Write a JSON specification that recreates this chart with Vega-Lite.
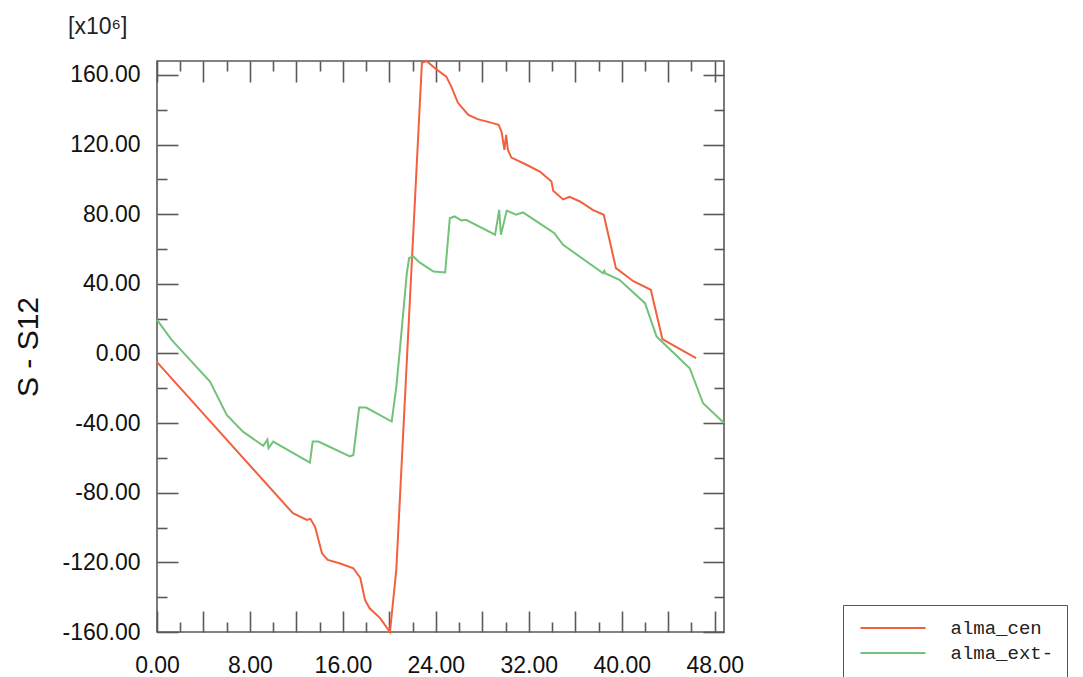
{
  "$schema": "https://vega.github.io/schema/vega-lite/v6.json",
  "width": 567,
  "height": 571,
  "autosize": "none",
  "padding": {"left": 157, "top": 61, "right": 359, "bottom": 45},
  "background": "white",
  "config": {
    "view": {"stroke": "#5f5757", "strokeWidth": 1.6},
    "font": "Liberation Sans"
  },
  "title": {
    "text": "[x10⁶]",
    "anchor": "start",
    "frame": "group",
    "dx": -89,
    "offset": 0,
    "baseline": "alphabetic",
    "fontSize": 23,
    "fontWeight": "normal",
    "font": "Liberation Sans",
    "color": "#222222"
  },
  "data": {
    "values": [
      {"s": "alma_cen", "t": 0, "v": -5},
      {"s": "alma_cen", "t": 11.7, "v": -91.8},
      {"s": "alma_cen", "t": 12.9, "v": -95.6},
      {"s": "alma_cen", "t": 13.2, "v": -95},
      {"s": "alma_cen", "t": 13.6, "v": -99.5},
      {"s": "alma_cen", "t": 14.2, "v": -114.8},
      {"s": "alma_cen", "t": 14.7, "v": -118.6},
      {"s": "alma_cen", "t": 15.7, "v": -120.5},
      {"s": "alma_cen", "t": 16.9, "v": -123.4},
      {"s": "alma_cen", "t": 17.5, "v": -129},
      {"s": "alma_cen", "t": 17.9, "v": -141.6},
      {"s": "alma_cen", "t": 18.3, "v": -146.4},
      {"s": "alma_cen", "t": 19.2, "v": -152},
      {"s": "alma_cen", "t": 20.05, "v": -160},
      {"s": "alma_cen", "t": 20.6, "v": -124},
      {"s": "alma_cen", "t": 21.7, "v": 22},
      {"s": "alma_cen", "t": 22.8, "v": 167},
      {"s": "alma_cen", "t": 23.2, "v": 168},
      {"s": "alma_cen", "t": 23.9, "v": 164},
      {"s": "alma_cen", "t": 24.9, "v": 159},
      {"s": "alma_cen", "t": 25.35, "v": 153},
      {"s": "alma_cen", "t": 25.9, "v": 144},
      {"s": "alma_cen", "t": 26.8, "v": 137},
      {"s": "alma_cen", "t": 27.6, "v": 134.6},
      {"s": "alma_cen", "t": 28.9, "v": 132.3},
      {"s": "alma_cen", "t": 29.4, "v": 131.4},
      {"s": "alma_cen", "t": 29.65, "v": 127.5},
      {"s": "alma_cen", "t": 29.9, "v": 117},
      {"s": "alma_cen", "t": 30.05, "v": 125.6},
      {"s": "alma_cen", "t": 30.2, "v": 117},
      {"s": "alma_cen", "t": 30.5, "v": 112.5},
      {"s": "alma_cen", "t": 31.8, "v": 108.4},
      {"s": "alma_cen", "t": 32.95, "v": 104.5},
      {"s": "alma_cen", "t": 33.95, "v": 98.8},
      {"s": "alma_cen", "t": 34.1, "v": 93.5},
      {"s": "alma_cen", "t": 34.95, "v": 88.5},
      {"s": "alma_cen", "t": 35.5, "v": 90},
      {"s": "alma_cen", "t": 36.4, "v": 87.3},
      {"s": "alma_cen", "t": 37.5, "v": 82.5},
      {"s": "alma_cen", "t": 38.45, "v": 79.7},
      {"s": "alma_cen", "t": 39.5, "v": 49},
      {"s": "alma_cen", "t": 41.0, "v": 41.5},
      {"s": "alma_cen", "t": 42.5, "v": 36.6},
      {"s": "alma_cen", "t": 43.5, "v": 8.3},
      {"s": "alma_cen", "t": 44.1, "v": 5.9},
      {"s": "alma_cen", "t": 46.4, "v": -2.7},
      {"s": "alma_ext-", "t": 0, "v": 19.3},
      {"s": "alma_ext-", "t": 1.26, "v": 7.8},
      {"s": "alma_ext-", "t": 2.84, "v": -3.7},
      {"s": "alma_ext-", "t": 4.56, "v": -16.1},
      {"s": "alma_ext-", "t": 6.0, "v": -35.3},
      {"s": "alma_ext-", "t": 7.4, "v": -44.9},
      {"s": "alma_ext-", "t": 9.15, "v": -53.1},
      {"s": "alma_ext-", "t": 9.5, "v": -49.5},
      {"s": "alma_ext-", "t": 9.6, "v": -54.4},
      {"s": "alma_ext-", "t": 10.0, "v": -50.6},
      {"s": "alma_ext-", "t": 13.16, "v": -62.7},
      {"s": "alma_ext-", "t": 13.4, "v": -50.6},
      {"s": "alma_ext-", "t": 13.9, "v": -50.6},
      {"s": "alma_ext-", "t": 16.6, "v": -59.2},
      {"s": "alma_ext-", "t": 16.9, "v": -58.3},
      {"s": "alma_ext-", "t": 17.4, "v": -31.1},
      {"s": "alma_ext-", "t": 18.0, "v": -31.1},
      {"s": "alma_ext-", "t": 20.2, "v": -39.1},
      {"s": "alma_ext-", "t": 20.6, "v": -19},
      {"s": "alma_ext-", "t": 20.9, "v": 2},
      {"s": "alma_ext-", "t": 21.5, "v": 46},
      {"s": "alma_ext-", "t": 21.7, "v": 54.8},
      {"s": "alma_ext-", "t": 22.05, "v": 55.7},
      {"s": "alma_ext-", "t": 22.6, "v": 52.3},
      {"s": "alma_ext-", "t": 23.8, "v": 47.1},
      {"s": "alma_ext-", "t": 24.8, "v": 46.5},
      {"s": "alma_ext-", "t": 25.2, "v": 77.7},
      {"s": "alma_ext-", "t": 25.6, "v": 78.7},
      {"s": "alma_ext-", "t": 26.2, "v": 76.4},
      {"s": "alma_ext-", "t": 26.6, "v": 76.8},
      {"s": "alma_ext-", "t": 29.1, "v": 68.2},
      {"s": "alma_ext-", "t": 29.45, "v": 82.5},
      {"s": "alma_ext-", "t": 29.6, "v": 68.2},
      {"s": "alma_ext-", "t": 30.1, "v": 82.1},
      {"s": "alma_ext-", "t": 30.9, "v": 79.7},
      {"s": "alma_ext-", "t": 31.5, "v": 81},
      {"s": "alma_ext-", "t": 32.9, "v": 74.9},
      {"s": "alma_ext-", "t": 34.2, "v": 69.1},
      {"s": "alma_ext-", "t": 34.95, "v": 62.4},
      {"s": "alma_ext-", "t": 38.4, "v": 46.1},
      {"s": "alma_ext-", "t": 38.5, "v": 47.5},
      {"s": "alma_ext-", "t": 38.6, "v": 46},
      {"s": "alma_ext-", "t": 39.8, "v": 42.3},
      {"s": "alma_ext-", "t": 42.0, "v": 28.9},
      {"s": "alma_ext-", "t": 43.0, "v": 9.7},
      {"s": "alma_ext-", "t": 45.85, "v": -8.5},
      {"s": "alma_ext-", "t": 47.0, "v": -28.6},
      {"s": "alma_ext-", "t": 48.8, "v": -40}
    ]
  },
  "resolve": {"axis": {"x": "independent", "y": "independent"}},
  "layer": [
    {
      "transform": [{"filter": "datum.s === 'alma_cen'"}],
      "mark": {"type": "line", "strokeWidth": 2},
      "encoding": {
        "x": {
          "field": "t",
          "type": "quantitative",
          "scale": {"domain": [0, 48.8], "nice": false, "zero": false},
          "axis": {
            "orient": "bottom",
            "values": [0, 2, 4, 6, 8, 10, 12, 14, 16, 18, 20, 22, 24, 26, 28, 30, 32, 34, 36, 38, 40, 42, 44, 46, 48],
            "domain": false,
            "grid": false,
            "title": null,
            "tickSize": {"condition": {"test": "datum.value % 4 === 0", "value": -21}, "value": -10},
            "tickColor": "#5f5757",
            "tickWidth": 1.6,
            "labelExpr": "datum.value % 8 === 0 ? format(datum.value, '.2f') : ''",
            "labelFont": "Liberation Sans",
            "labelFontSize": 23,
            "labelColor": "#111111",
            "labelPadding": 43,
            "labelFlush": false,
            "labelOverlap": false
          }
        },
        "y": {
          "field": "v",
          "type": "quantitative",
          "scale": {"domain": [-160, 168], "nice": false, "zero": false},
          "axis": {
            "orient": "left",
            "values": [-160, -140, -120, -100, -80, -60, -40, -20, 0, 20, 40, 60, 80, 100, 120, 140, 160],
            "domain": false,
            "grid": false,
            "title": "S - S12",
            "titleFont": "Liberation Sans",
            "titleFontSize": 30,
            "titleFontWeight": "normal",
            "titleColor": "#111111",
            "titlePadding": 18,
            "tickSize": {"condition": {"test": "datum.value % 40 === 0", "value": -21}, "value": -10},
            "tickColor": "#5f5757",
            "tickWidth": 1.6,
            "labelExpr": "datum.value % 40 === 0 ? replace(format(datum.value, '.2f'), '−', '-') : ''",
            "labelFont": "Liberation Sans",
            "labelFontSize": 23,
            "labelColor": "#111111",
            "labelPadding": 38,
            "labelFlush": false,
            "labelOverlap": false
          }
        },
        "color": {
          "field": "s",
          "type": "nominal",
          "scale": {"domain": ["alma_cen", "alma_ext-"], "range": ["#f2603f", "#72c27a"]},
          "legend": {
            "orient": "none",
            "legendX": 686,
            "legendY": 544,
            "title": null,
            "symbolType": "M-5,0H5",
            "symbolSize": 169,
            "symbolStrokeWidth": 2,
            "symbolOffset": 27,
            "labelOffset": 48,
            "labelFont": "Liberation Mono",
            "labelFontSize": 19,
            "labelColor": "#222222",
            "padding": 13.5,
            "rowPadding": 5,
            "strokeColor": "#555555",
            "fillColor": "white",
            "labelExpr": "datum.label + '        '"
          }
        }
      }
    },
    {
      "transform": [{"filter": "datum.s === 'alma_ext-'"}],
      "mark": {"type": "line", "strokeWidth": 2},
      "encoding": {
        "x": {
          "field": "t",
          "type": "quantitative",
          "scale": {"domain": [0, 48.8], "nice": false, "zero": false},
          "axis": {
            "orient": "top",
            "values": [0, 2, 4, 6, 8, 10, 12, 14, 16, 18, 20, 22, 24, 26, 28, 30, 32, 34, 36, 38, 40, 42, 44, 46, 48],
            "domain": false,
            "grid": false,
            "title": null,
            "labels": false,
            "tickSize": {"condition": {"test": "datum.value % 4 === 0", "value": -21}, "value": -10},
            "tickColor": "#5f5757",
            "tickWidth": 1.6
          }
        },
        "y": {
          "field": "v",
          "type": "quantitative",
          "scale": {"domain": [-160, 168], "nice": false, "zero": false},
          "axis": {
            "orient": "right",
            "values": [-160, -140, -120, -100, -80, -60, -40, -20, 0, 20, 40, 60, 80, 100, 120, 140, 160],
            "domain": false,
            "grid": false,
            "title": null,
            "labels": false,
            "tickSize": {"condition": {"test": "datum.value % 40 === 0", "value": -21}, "value": -10},
            "tickColor": "#5f5757",
            "tickWidth": 1.6
          }
        },
        "color": {"field": "s", "type": "nominal"}
      }
    }
  ]
}
